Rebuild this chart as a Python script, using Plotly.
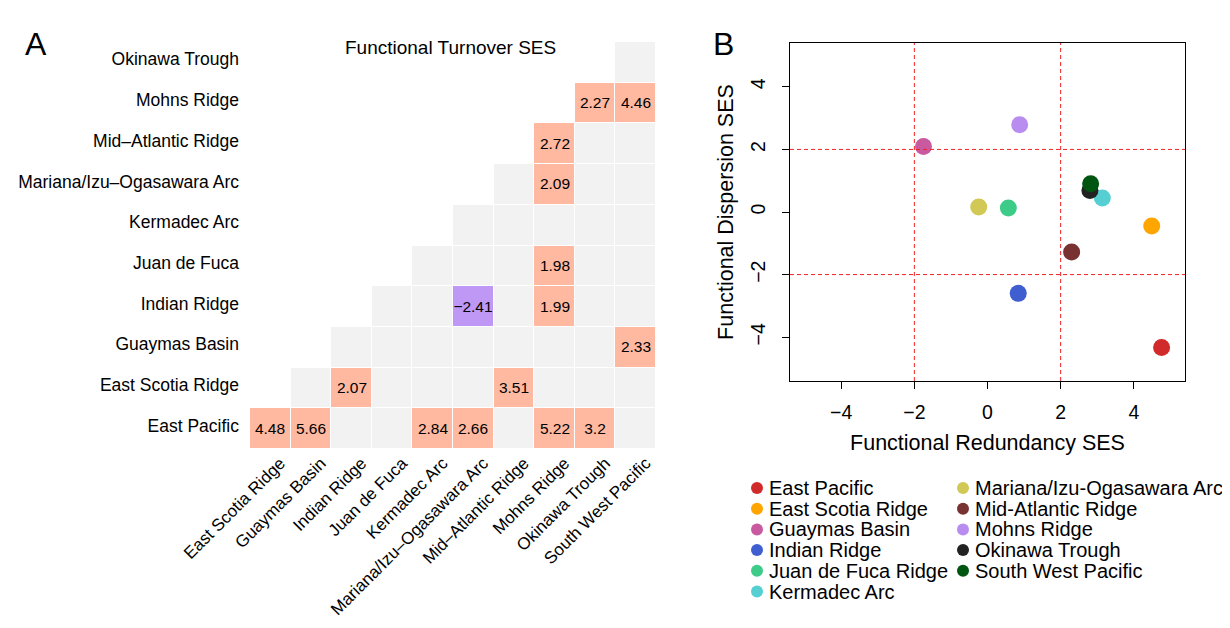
import math
import plotly.graph_objects as go

# ---------------- data ----------------
heat_rows = ["East Pacific", "East Scotia Ridge", "Guaymas Basin", "Indian Ridge",
             "Juan de Fuca", "Kermadec Arc", "Mariana/Izu–Ogasawara Arc",
             "Mid–Atlantic Ridge", "Mohns Ridge", "Okinawa Trough"]
heat_cols = ["East Scotia Ridge", "Guaymas Basin", "Indian Ridge", "Juan de Fuca",
             "Kermadec Arc", "Mariana/Izu–Ogasawara Arc", "Mid–Atlantic Ridge",
             "Mohns Ridge", "Okinawa Trough", "South West Pacific"]
NS = float("nan")   # present but non-significant (grey)
# None = no cell (outside the lower triangle)
turnover_ses = [
    [4.48, 5.66, NS, NS, 2.84, 2.66, NS, 5.22, 3.2, NS],          # East Pacific
    [None, NS, 2.07, NS, NS, NS, 3.51, NS, NS, NS],               # East Scotia Ridge
    [None, None, NS, NS, NS, NS, NS, NS, NS, 2.33],               # Guaymas Basin
    [None, None, None, NS, NS, -2.41, NS, 1.99, NS, NS],          # Indian Ridge
    [None, None, None, None, NS, NS, NS, 1.98, NS, NS],           # Juan de Fuca
    [None, None, None, None, None, NS, NS, NS, NS, NS],           # Kermadec Arc
    [None, None, None, None, None, None, NS, 2.09, NS, NS],       # Mariana
    [None, None, None, None, None, None, None, 2.72, NS, NS],     # Mid-Atlantic
    [None, None, None, None, None, None, None, None, 2.27, 4.46], # Mohns Ridge
    [None, None, None, None, None, None, None, None, None, NS],   # Okinawa Trough
]

sites = ["East Pacific", "East Scotia Ridge", "Guaymas Basin", "Indian Ridge",
         "Juan de Fuca Ridge", "Kermadec Arc", "Mariana/Izu-Ogasawara Arc",
         "Mid-Atlantic Ridge", "Mohns Ridge", "Okinawa Trough", "South West Pacific"]
redundancy_ses = [4.76, 4.49, -1.75, 0.84, 0.57, 3.14, -0.24, 2.30, 0.88, 2.80, 2.82]
dispersion_ses = [-4.33, -0.45, 2.09, -2.60, 0.13, 0.45, 0.16, -1.28, 2.79, 0.69, 0.90]
site_colors = ["#d02a2a", "#ffa500", "#c95aa0", "#3f5fd0", "#3dcb88", "#55cfd2",
               "#d2c855", "#783232", "#b98cf0", "#222222", "#005510"]

FONT = "Liberation Sans, Arial, sans-serif"
VIEW_W, VIEW_H, OFF = 1230, 628, 8          # page has an 8px body margin
W, H = VIEW_W - 2 * OFF, VIEW_H - 2 * OFF


def px(X):   # page pixel -> paper x
    return (X - OFF) / W


def py(Y):   # page pixel -> paper y
    return 1 - (Y - OFF) / H


# ---------------- heatmap ----------------
codes, labels = [], []
for row in turnover_ses:
    crow, lrow = [], []
    for v in row:
        if v is None:
            crow.append(None); lrow.append("")
        elif isinstance(v, float) and math.isnan(v):
            crow.append(0); lrow.append("")
        else:
            crow.append(1 if v > 0 else -1)
            lrow.append(f"{v:g}".replace("-", "−"))
    codes.append(crow); labels.append(lrow)

fig = go.Figure()
fig.add_trace(go.Heatmap(
    z=codes, x=heat_cols, y=heat_rows, text=labels, texttemplate="%{text}",
    textfont=dict(family=FONT, size=15.5, color="black"),
    zmin=-1, zmax=1,
    colorscale=[[0, "#bf98f5"], [0.33, "#bf98f5"], [0.33, "#f2f2f2"],
                [0.67, "#f2f2f2"], [0.67, "#ffb9a1"], [1, "#ffb9a1"]],
    showscale=False, xgap=1, ygap=1, hoverongaps=False,
    xaxis="x", yaxis="y"))

# ---------------- scatter ----------------
for s, xv, yv, c in zip(sites, redundancy_ses, dispersion_ses, site_colors):
    fig.add_trace(go.Scatter(x=[xv], y=[yv], mode="markers", name=s,
                             marker=dict(size=17, color=c, line=dict(width=0)),
                             showlegend=False, xaxis="x2", yaxis="y2"))

# dashed threshold lines
for v in (-2, 2):
    fig.add_shape(type="line", xref="x2", yref="y2 domain", x0=v, x1=v, y0=0, y1=1,
                  line=dict(color="#f02020", width=1, dash="4px,3px"))
    fig.add_shape(type="line", xref="x2 domain", yref="y2", x0=0, x1=1, y0=v, y1=v,
                  line=dict(color="#f02020", width=1, dash="4px,3px"))

# two-column legend
leg_x = [757, 963]
leg_y0, leg_dy = 488, 20.7
for i, (s, c) in enumerate(zip(sites, site_colors)):
    col, row = (0, i) if i < 6 else (1, i - 6)
    X, Y = leg_x[col], leg_y0 + row * leg_dy
    fig.add_shape(type="circle", xref="paper", yref="paper",
                  xsizemode="pixel", ysizemode="pixel",
                  xanchor=px(X), yanchor=py(Y),
                  x0=-6, x1=6, y0=-6, y1=6,
                  fillcolor=c, line=dict(width=0))
    fig.add_annotation(x=px(X + 10), y=py(Y), xref="paper", yref="paper",
                       text=s, showarrow=False, xanchor="left", yanchor="middle",
                       font=dict(family=FONT, size=20, color="black"))

# panel labels and heatmap title
fig.add_annotation(x=px(23), y=py(24), xref="paper", yref="paper", text="A",
                   showarrow=False, font=dict(family=FONT, size=32, color="black"))
fig.add_annotation(x=px(723), y=py(24), xref="paper", yref="paper", text="B",
                   showarrow=False, font=dict(family=FONT, size=32, color="black"))
fig.add_annotation(x=px(450), y=py(35), xref="paper", yref="paper",
                   text="Functional Turnover SES", showarrow=False,
                   font=dict(family=FONT, size=19, color="black"))

axis_common = dict(automargin=False, showgrid=False, zeroline=False)
fig.update_layout(
    width=W, height=H, margin=dict(l=0, r=0, t=0, b=0, autoexpand=False),
    paper_bgcolor="white", plot_bgcolor="white", showlegend=False,
    font=dict(family=FONT, color="black"),
    xaxis=dict(domain=[px(250), px(656)], anchor="y", tickangle=-45,
               showline=False, ticks="",
               tickfont=dict(family=FONT, size=17), ticklabelstandoff=0,
               ticklabelshift=10,
               categoryorder="array", categoryarray=heat_cols, **axis_common),
    yaxis=dict(domain=[py(449), py(42)], anchor="x",
               showline=False, ticks="",
               tickfont=dict(family=FONT, size=17.5), ticklabelstandoff=10,
               ticklabelshift=-3,
               categoryorder="array", categoryarray=heat_rows, **axis_common),
    xaxis2=dict(domain=[px(790), px(1185)], anchor="y2", range=[-5.4, 5.4],
                tickvals=[-4, -2, 0, 2, 4],
                showline=True, mirror=True, linecolor="black", linewidth=1,
                ticks="outside", ticklen=7, tickcolor="black",
                tickfont=dict(family=FONT, size=19.5), ticklabelstandoff=7,
                title=dict(text="Functional Redundancy SES",
                           font=dict(family=FONT, size=21.5), standoff=12),
                **axis_common),
    yaxis2=dict(domain=[py(381), py(43)], anchor="x2", range=[-5.4, 5.4],
                tickvals=[-4, -2, 0, 2, 4],
                showline=True, mirror=True, linecolor="black", linewidth=1,
                ticks="outside", ticklen=7, tickcolor="black", tickangle=-90,
                tickfont=dict(family=FONT, size=19.5), ticklabelstandoff=9,
                title=dict(text="Functional Dispersion SES",
                           font=dict(family=FONT, size=21.5), standoff=7),
                **axis_common),
)

fig.write_html("out.html")
